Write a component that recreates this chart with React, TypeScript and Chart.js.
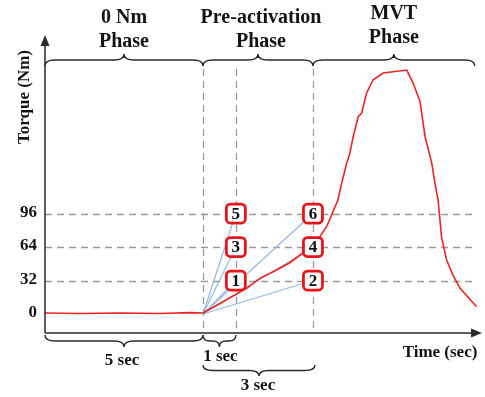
import React, { useEffect, useRef } from "react";
import { Chart, registerables } from "chart.js";

Chart.register(...registerables);

// Torque curve (time in sec, torque in Nm)
const curveTime = [0, 1.11, 2.37, 3.64, 4.59, 5.0, 5.63, 6.38, 6.8, 7.33, 7.75, 8.16, 8.44, 8.7, 8.91, 9.11, 9.27, 9.39, 9.55, 9.65, 9.75, 9.91, 10.02, 10.18, 10.38, 10.7, 11.01, 11.45, 11.65, 11.87, 12.03, 12.24, 12.34, 12.44, 12.55, 12.71, 12.91, 13.13, 13.66];
const curveTorque = [1, 0.5, 1, 0.5, 1.4, 1, 11.7, 24.5, 34.1, 42, 49, 58.3, 64.9, 73.8, 83.4, 97.4, 108.9, 125.1, 144.2, 153.8, 169.1, 188.2, 192, 211.1, 223.5, 230.2, 231.4, 233, 220.6, 202.8, 169.1, 144.2, 125.1, 108.9, 73.5, 51.6, 37.2, 24.8, 7];

const yTicks = [0, 32, 64, 96];
const markerTimes = [5, 6.04, 8.48]; // onset, +1 sec, +3 sec
const boxTimes = [6.04, 8.48, 6.04, 8.48, 6.04, 8.48];
const boxTorques = [32, 32, 64, 64, 96, 96];
const boxLabels = ["1", "2", "3", "4", "5", "6"];

const phaseBounds = [0, 5, 8.48, 13.6];
const phaseLine1 = ["0 Nm", "Pre-activation", "MVT"];
const phaseLine2 = ["Phase", "Phase", "Phase"];

const FONT = '"Liberation Serif", "Times New Roman", serif';

function brace(ctx: CanvasRenderingContext2D, x1: number, x2: number, y0: number, d: number, q: number) {
  const xm = (x1 + x2) / 2;
  const r = Math.min(10, (x2 - x1) / 5);
  ctx.beginPath();
  ctx.moveTo(x1, y0);
  ctx.quadraticCurveTo(x1, y0 + d * q, x1 + r, y0 + d * q);
  ctx.lineTo(xm - r, y0 + d * q);
  ctx.quadraticCurveTo(xm, y0 + d * q, xm, y0 + d * 2 * q);
  ctx.quadraticCurveTo(xm, y0 + d * q, xm + r, y0 + d * q);
  ctx.lineTo(x2 - r, y0 + d * q);
  ctx.quadraticCurveTo(x2, y0 + d * q, x2, y0);
  ctx.stroke();
}

const overlay = {
  id: "overlay",
  beforeDatasetsDraw(chart: any) {
    const ctx = chart.ctx as CanvasRenderingContext2D;
    const xs = chart.scales.x;
    const ys = chart.scales.y;
    const area = chart.chartArea;
    ctx.save();
    ctx.strokeStyle = "#9a9a9a";
    ctx.lineWidth = 1.3;
    ctx.setLineDash([7, 5]);
    yTicks.filter((t) => t !== 0).forEach((t) => {
      const y = Math.round(ys.getPixelForValue(t)) + 0.5;
      ctx.beginPath();
      ctx.moveTo(area.left, y);
      ctx.lineTo(xs.getPixelForValue(13.55), y);
      ctx.stroke();
    });
    markerTimes.forEach((t) => {
      const x = Math.round(xs.getPixelForValue(t)) + 0.5;
      ctx.beginPath();
      ctx.moveTo(x, 69);
      ctx.lineTo(x, area.bottom);
      ctx.stroke();
    });
    ctx.restore();
  },
  afterDatasetsDraw(chart: any) {
    const ctx = chart.ctx as CanvasRenderingContext2D;
    const xs = chart.scales.x;
    const ys = chart.scales.y;
    const area = chart.chartArea;
    ctx.save();
    // boxes
    boxTimes.forEach((t, i) => {
      const cx = xs.getPixelForValue(t);
      const cy = ys.getPixelForValue(boxTorques[i]);
      const s = 19;
      ctx.beginPath();
      (ctx as any).roundRect(cx - s / 2, cy - s / 2, s, s, 4);
      ctx.fillStyle = "#ffffff";
      ctx.fill();
      ctx.lineWidth = 2.8;
      ctx.strokeStyle = "#e8141b";
      ctx.stroke();
      ctx.fillStyle = "#0d0d0d";
      ctx.font = `bold 17px ${FONT}`;
      ctx.textAlign = "center";
      ctx.textBaseline = "middle";
      ctx.fillText(boxLabels[i], cx, cy + 1);
    });
    // axes
    ctx.strokeStyle = "#2a2a2a";
    ctx.fillStyle = "#2a2a2a";
    ctx.lineWidth = 1.5;
    const x0 = area.left;
    const yb = area.bottom;
    ctx.beginPath();
    ctx.moveTo(x0, yb);
    ctx.lineTo(x0, area.top + 6);
    ctx.moveTo(x0, yb);
    ctx.lineTo(area.right - 6, yb);
    ctx.stroke();
    ctx.beginPath();
    ctx.moveTo(x0, area.top);
    ctx.lineTo(x0 - 4.5, area.top + 11);
    ctx.lineTo(x0 + 4.5, area.top + 11);
    ctx.closePath();
    ctx.fill();
    ctx.beginPath();
    ctx.moveTo(area.right, yb);
    ctx.lineTo(area.right - 11, yb - 4.5);
    ctx.lineTo(area.right - 11, yb + 4.5);
    ctx.closePath();
    ctx.fill();

    // tick labels
    ctx.fillStyle = "#141414";
    ctx.font = `bold 17px ${FONT}`;
    ctx.textAlign = "right";
    ctx.textBaseline = "middle";
    yTicks.forEach((t) => ctx.fillText(String(t), 37, ys.getPixelForValue(t) - 1));

    // y title
    ctx.save();
    ctx.translate(25, 97);
    ctx.rotate(-Math.PI / 2);
    ctx.textAlign = "center";
    ctx.textBaseline = "middle";
    ctx.fillText("Torque (Nm)", 0, 0);
    ctx.restore();

    // bottom braces and labels
    ctx.strokeStyle = "#2a2a2a";
    ctx.lineWidth = 1.4;
    const p0 = xs.getPixelForValue(markerTimes[0]);
    const p1 = xs.getPixelForValue(markerTimes[1]);
    const p2 = xs.getPixelForValue(markerTimes[2]);
    brace(ctx, x0, p0, 335, 1, 6);
    brace(ctx, p0, p1, 335, 1, 6);
    brace(ctx, p0, p2 + 2, 365, 1, 5.5);
    ctx.textAlign = "center";
    ctx.textBaseline = "middle";
    ctx.fillText("5 sec", (x0 + p0) / 2 - 2, 361);
    ctx.fillText("1 sec", (p0 + p1) / 2 + 1, 357);
    ctx.fillText("3 sec", (p0 + p2) / 2, 386);
    ctx.fillText("Time (sec)", 440, 353);

    // top braces and phase labels
    const lineOffsets = [0, 0, -4];
    for (let i = 0; i < 3; i++) {
      const a = xs.getPixelForValue(phaseBounds[i]);
      const b = xs.getPixelForValue(phaseBounds[i + 1]);
      brace(ctx, a, b, 66, -1, 6);
      ctx.font = `bold 20px ${FONT}`;
      ctx.textAlign = "center";
      ctx.textBaseline = "alphabetic";
      const cx = (a + b) / 2 + (i === 1 ? 3 : 0);
      ctx.fillText(phaseLine1[i], cx, 23 + lineOffsets[i]);
      ctx.fillText(phaseLine2[i], cx, 47 + lineOffsets[i]);
    }
    ctx.restore();
  },
};

export default function App() {
  const ref = useRef<HTMLCanvasElement>(null);
  useEffect(() => {
    document.body.style.margin = "0";
    if (!ref.current) return;
    const origin = { x: markerTimes[0], y: 0 };
    const blueSets = boxTimes.map((t, i) => ({
      data: [origin, { x: t, y: boxTorques[i] }],
      borderColor: "#93b8e0",
      borderWidth: 1.2,
      showLine: true,
      pointRadius: 0,
    }));
    const chart = new Chart(ref.current, {
      type: "scatter",
      data: {
        datasets: [
          {
            data: curveTime.map((t, i) => ({ x: t, y: curveTorque[i] })),
            borderColor: "#ee2424",
            borderWidth: 1.6,
            showLine: true,
            pointRadius: 0,
          },
          ...blueSets,
        ],
      },
      options: {
        animation: false,
        responsive: false,
        layout: { padding: { left: 45, right: 3, top: 35, bottom: 64 } },
        plugins: { legend: { display: false }, tooltip: { enabled: false } },
        scales: {
          x: { type: "linear", display: false, min: 0, max: 13.83 },
          y: { type: "linear", display: false, min: -18.1, max: 266.5 },
        },
      },
      plugins: [overlay],
    });
    return () => chart.destroy();
  }, []);
  return (
    <div style={{ position: "absolute", left: 0, top: 0, width: 485, height: 397, background: "#fff" }}>
      <canvas ref={ref} width={485} height={397} />
    </div>
  );
}
